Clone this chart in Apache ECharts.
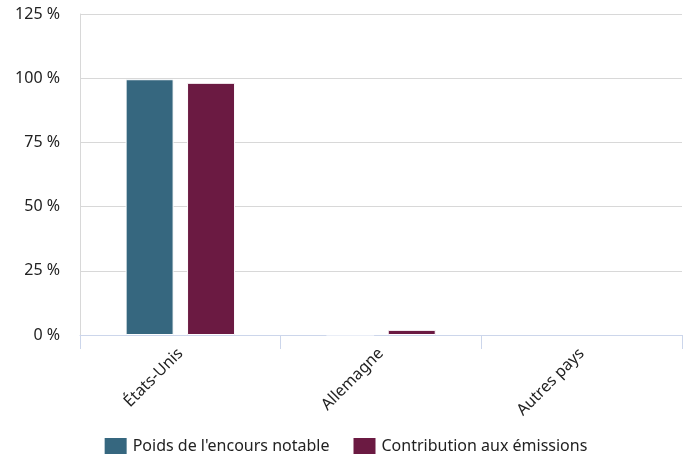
<!DOCTYPE html>
<html><head><meta charset="utf-8">
<script src="https://cdn.jsdelivr.net/npm/echarts@6/dist/echarts.min.js"></script>
<style>html,body{margin:0;padding:0;background:#fff}#c{width:690px;height:457px}</style>
</head><body><div id="c"></div>
<script>
const categories = ["États-Unis", "Allemagne", "Autres pays"];
const poids = [99.6, 0.1, null];
const contribution = [98.2, 2.0, null];
const yTicks = [0, 25, 50, 75, 100, 125];

const chart = echarts.init(document.getElementById('c'));
chart.setOption({
  animation: false,
  textStyle: {fontFamily: 'Noto Sans'},
  grid: {left: 80, right: 8, top: 14, bottom: 122, containLabel: false},
  legend: {
    top: 431, left: 'center', itemWidth: 24, itemHeight: 18, itemGap: 22,
    icon: 'rect',
    textStyle: {fontSize: 16, color: '#222', fontFamily: 'Noto Sans'},
    data: ["Poids de l'encours notable", "Contribution aux émissions"]
  },
  xAxis: {
    type: 'category', data: categories,
    axisLine: {lineStyle: {color: '#ccd6eb'}},
    axisTick: {show: true, length: 14, lineStyle: {color: '#ccd6eb'}},
    axisLabel: {rotate: 45, fontSize: 16, color: '#222', margin: 16, fontFamily: 'Noto Sans'}
  },
  yAxis: {
    type: 'value', min: yTicks[0], max: yTicks[yTicks.length-1], interval: 25,
    axisLine: {show: true, lineStyle: {color: '#d8d8d8'}},
    splitLine: {lineStyle: {color: '#d8d8d8'}},
    axisLabel: {fontSize: 16, color: '#222', margin: 20, formatter: v => v + ' %', fontFamily: 'Noto Sans'}
  },
  series: [
    {name: "Poids de l'encours notable", type: 'bar', data: poids, barWidth: 48, barGap: '28%',
     itemStyle: {color: '#36677f', borderColor: '#fff', borderWidth: 1}},
    {name: "Contribution aux émissions", type: 'bar', data: contribution, barWidth: 48,
     itemStyle: {color: '#6b1a42', borderColor: '#fff', borderWidth: 1}}
  ]
});
</script></body></html>
